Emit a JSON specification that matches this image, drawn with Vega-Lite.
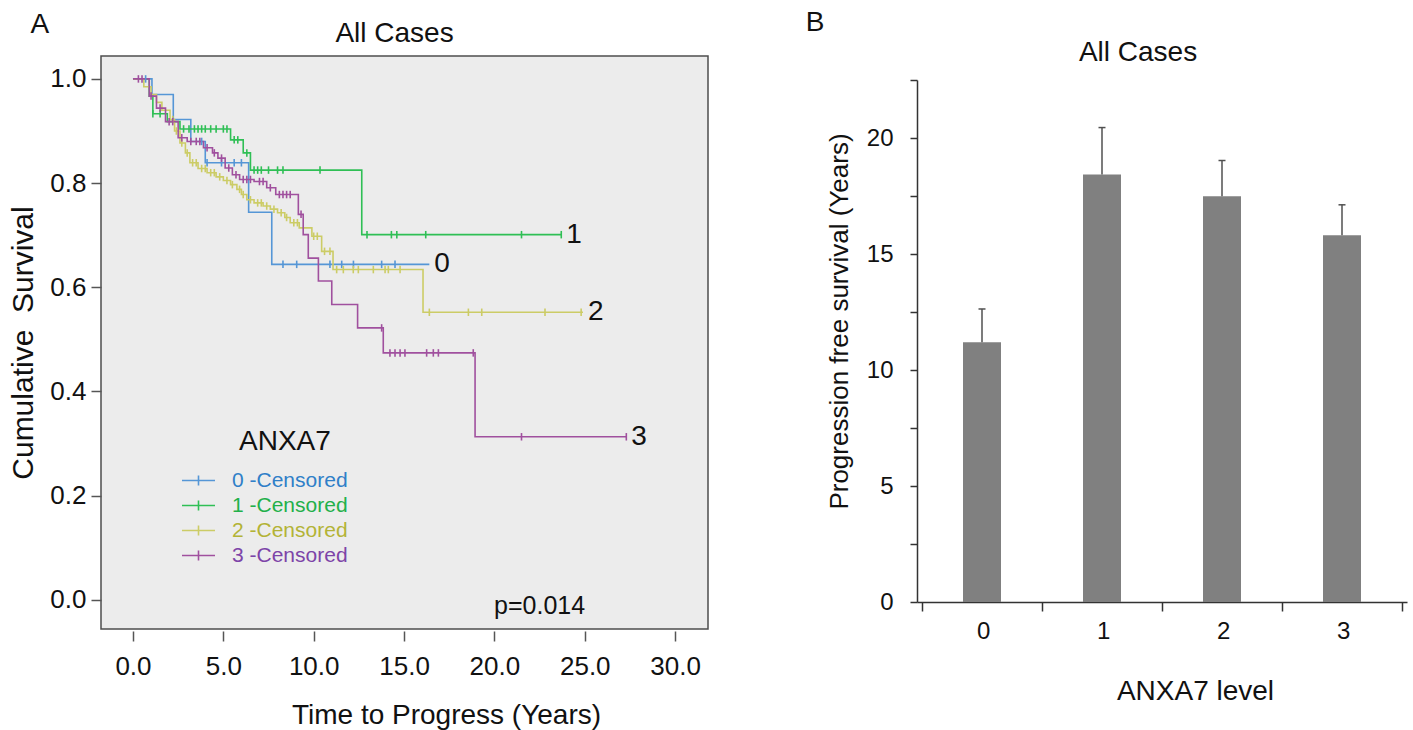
{
  "$schema": "https://vega.github.io/schema/vega-lite/v6.json",
  "background": "white",
  "padding": {"left": 8, "top": 8, "right": 5, "bottom": 5},
  "config": {
    "font": "Liberation Sans",
    "axis": {"labelColor": "#111", "titleColor": "#111", "titleFontWeight": "normal", "grid": false},
    "title": {"color": "#111", "fontWeight": "normal"}
  },
  "datasets": {
    "km": [
      {"g": "0", "t": 0, "s": 1.0}, {"g": "0", "t": 1.05, "s": 0.97}, {"g": "0", "t": 2.23, "s": 0.922}, {"g": "0", "t": 3.2, "s": 0.88}, {"g": "0", "t": 4.0, "s": 0.839}, {"g": "0", "t": 6.4, "s": 0.744}, {"g": "0", "t": 7.68, "s": 0.644}, {"g": "0", "t": 16.4, "s": 0.644},
      {"g": "1", "t": 0, "s": 1.0}, {"g": "1", "t": 0.9, "s": 0.967}, {"g": "1", "t": 1.1, "s": 0.933}, {"g": "1", "t": 1.9, "s": 0.918}, {"g": "1", "t": 2.6, "s": 0.904}, {"g": "1", "t": 5.4, "s": 0.883}, {"g": "1", "t": 6.1, "s": 0.858}, {"g": "1", "t": 6.5, "s": 0.825}, {"g": "1", "t": 12.66, "s": 0.701}, {"g": "1", "t": 23.7, "s": 0.701},
      {"g": "2", "t": 0, "s": 1.0}, {"g": "2", "t": 0.6, "s": 0.985}, {"g": "2", "t": 1.0, "s": 0.97}, {"g": "2", "t": 1.3, "s": 0.955}, {"g": "2", "t": 1.6, "s": 0.94}, {"g": "2", "t": 2.05, "s": 0.922}, {"g": "2", "t": 2.3, "s": 0.9}, {"g": "2", "t": 2.6, "s": 0.877}, {"g": "2", "t": 2.9, "s": 0.858}, {"g": "2", "t": 3.15, "s": 0.839}, {"g": "2", "t": 3.6, "s": 0.828}, {"g": "2", "t": 4.1, "s": 0.82}, {"g": "2", "t": 4.6, "s": 0.812}, {"g": "2", "t": 5.0, "s": 0.805}, {"g": "2", "t": 5.4, "s": 0.797}, {"g": "2", "t": 5.75, "s": 0.788}, {"g": "2", "t": 6.0, "s": 0.778}, {"g": "2", "t": 6.3, "s": 0.768}, {"g": "2", "t": 6.7, "s": 0.762}, {"g": "2", "t": 7.2, "s": 0.756}, {"g": "2", "t": 7.6, "s": 0.75}, {"g": "2", "t": 8.0, "s": 0.743}, {"g": "2", "t": 8.4, "s": 0.734}, {"g": "2", "t": 8.7, "s": 0.724}, {"g": "2", "t": 9.2, "s": 0.714}, {"g": "2", "t": 9.9, "s": 0.698}, {"g": "2", "t": 10.44, "s": 0.669}, {"g": "2", "t": 11.07, "s": 0.634}, {"g": "2", "t": 16.05, "s": 0.552}, {"g": "2", "t": 24.9, "s": 0.552},
      {"g": "3", "t": 0, "s": 1.0}, {"g": "3", "t": 0.9, "s": 0.967}, {"g": "3", "t": 1.3, "s": 0.944}, {"g": "3", "t": 1.8, "s": 0.918}, {"g": "3", "t": 2.5, "s": 0.887}, {"g": "3", "t": 3.0, "s": 0.88}, {"g": "3", "t": 3.9, "s": 0.868}, {"g": "3", "t": 4.4, "s": 0.858}, {"g": "3", "t": 4.7, "s": 0.848}, {"g": "3", "t": 5.1, "s": 0.829}, {"g": "3", "t": 5.5, "s": 0.816}, {"g": "3", "t": 5.9, "s": 0.807}, {"g": "3", "t": 6.7, "s": 0.803}, {"g": "3", "t": 7.4, "s": 0.791}, {"g": "3", "t": 7.9, "s": 0.778}, {"g": "3", "t": 9.15, "s": 0.74}, {"g": "3", "t": 9.42, "s": 0.701}, {"g": "3", "t": 9.7, "s": 0.656}, {"g": "3", "t": 10.26, "s": 0.612}, {"g": "3", "t": 11.0, "s": 0.567}, {"g": "3", "t": 12.43, "s": 0.522}, {"g": "3", "t": 13.85, "s": 0.474}, {"g": "3", "t": 18.93, "s": 0.313}, {"g": "3", "t": 27.3, "s": 0.313}
    ],
    "cens": [
      {"g": "0", "t": 0.7, "s": 1.0}, {"g": "0", "t": 3.8, "s": 0.88}, {"g": "0", "t": 4.1, "s": 0.839}, {"g": "0", "t": 4.9, "s": 0.839}, {"g": "0", "t": 5.6, "s": 0.839}, {"g": "0", "t": 6.0, "s": 0.839}, {"g": "0", "t": 8.3, "s": 0.644}, {"g": "0", "t": 9.06, "s": 0.644}, {"g": "0", "t": 10.9, "s": 0.644}, {"g": "0", "t": 11.55, "s": 0.644}, {"g": "0", "t": 12.2, "s": 0.644}, {"g": "0", "t": 13.76, "s": 0.644}, {"g": "0", "t": 14.5, "s": 0.644},
      {"g": "1", "t": 1.1, "s": 0.933}, {"g": "1", "t": 1.5, "s": 0.933}, {"g": "1", "t": 2.8, "s": 0.904}, {"g": "1", "t": 3.1, "s": 0.904}, {"g": "1", "t": 3.4, "s": 0.904}, {"g": "1", "t": 3.6, "s": 0.904}, {"g": "1", "t": 3.8, "s": 0.904}, {"g": "1", "t": 4.0, "s": 0.904}, {"g": "1", "t": 4.3, "s": 0.904}, {"g": "1", "t": 4.6, "s": 0.904}, {"g": "1", "t": 5.0, "s": 0.904}, {"g": "1", "t": 5.2, "s": 0.904}, {"g": "1", "t": 5.6, "s": 0.883}, {"g": "1", "t": 5.8, "s": 0.883}, {"g": "1", "t": 6.3, "s": 0.858}, {"g": "1", "t": 6.7, "s": 0.825}, {"g": "1", "t": 6.9, "s": 0.825}, {"g": "1", "t": 7.1, "s": 0.825}, {"g": "1", "t": 7.5, "s": 0.825}, {"g": "1", "t": 8.0, "s": 0.825}, {"g": "1", "t": 8.3, "s": 0.825}, {"g": "1", "t": 10.35, "s": 0.825}, {"g": "1", "t": 12.95, "s": 0.701}, {"g": "1", "t": 14.3, "s": 0.701}, {"g": "1", "t": 14.6, "s": 0.701}, {"g": "1", "t": 16.2, "s": 0.701}, {"g": "1", "t": 21.5, "s": 0.701}, {"g": "1", "t": 23.7, "s": 0.701},
      {"g": "2", "t": 2.2, "s": 0.922}, {"g": "2", "t": 2.4, "s": 0.9}, {"g": "2", "t": 2.7, "s": 0.877}, {"g": "2", "t": 3.0, "s": 0.858}, {"g": "2", "t": 3.3, "s": 0.839}, {"g": "2", "t": 3.5, "s": 0.839}, {"g": "2", "t": 3.8, "s": 0.828}, {"g": "2", "t": 4.0, "s": 0.828}, {"g": "2", "t": 4.3, "s": 0.82}, {"g": "2", "t": 4.5, "s": 0.82}, {"g": "2", "t": 4.8, "s": 0.812}, {"g": "2", "t": 5.2, "s": 0.805}, {"g": "2", "t": 5.5, "s": 0.797}, {"g": "2", "t": 5.9, "s": 0.788}, {"g": "2", "t": 6.1, "s": 0.778}, {"g": "2", "t": 6.5, "s": 0.768}, {"g": "2", "t": 6.9, "s": 0.762}, {"g": "2", "t": 7.1, "s": 0.762}, {"g": "2", "t": 7.4, "s": 0.756}, {"g": "2", "t": 7.8, "s": 0.75}, {"g": "2", "t": 8.2, "s": 0.743}, {"g": "2", "t": 8.5, "s": 0.734}, {"g": "2", "t": 8.9, "s": 0.724}, {"g": "2", "t": 9.1, "s": 0.724}, {"g": "2", "t": 10.0, "s": 0.698}, {"g": "2", "t": 10.2, "s": 0.698}, {"g": "2", "t": 10.6, "s": 0.669}, {"g": "2", "t": 10.9, "s": 0.669}, {"g": "2", "t": 11.27, "s": 0.634}, {"g": "2", "t": 11.64, "s": 0.634}, {"g": "2", "t": 12.19, "s": 0.634}, {"g": "2", "t": 12.47, "s": 0.634}, {"g": "2", "t": 13.3, "s": 0.634}, {"g": "2", "t": 13.95, "s": 0.634}, {"g": "2", "t": 14.13, "s": 0.634}, {"g": "2", "t": 14.78, "s": 0.634}, {"g": "2", "t": 16.4, "s": 0.552}, {"g": "2", "t": 18.56, "s": 0.552}, {"g": "2", "t": 19.3, "s": 0.552}, {"g": "2", "t": 22.8, "s": 0.552}, {"g": "2", "t": 24.8, "s": 0.552},
      {"g": "3", "t": 0.3, "s": 1.0}, {"g": "3", "t": 0.5, "s": 1.0}, {"g": "3", "t": 1.0, "s": 0.967}, {"g": "3", "t": 1.5, "s": 0.944}, {"g": "3", "t": 2.0, "s": 0.918}, {"g": "3", "t": 2.2, "s": 0.918}, {"g": "3", "t": 2.7, "s": 0.887}, {"g": "3", "t": 3.2, "s": 0.88}, {"g": "3", "t": 3.5, "s": 0.88}, {"g": "3", "t": 3.7, "s": 0.88}, {"g": "3", "t": 4.1, "s": 0.868}, {"g": "3", "t": 4.5, "s": 0.858}, {"g": "3", "t": 4.9, "s": 0.848}, {"g": "3", "t": 5.3, "s": 0.829}, {"g": "3", "t": 5.7, "s": 0.816}, {"g": "3", "t": 6.1, "s": 0.807}, {"g": "3", "t": 6.3, "s": 0.807}, {"g": "3", "t": 6.5, "s": 0.807}, {"g": "3", "t": 7.0, "s": 0.803}, {"g": "3", "t": 7.2, "s": 0.803}, {"g": "3", "t": 7.6, "s": 0.791}, {"g": "3", "t": 8.1, "s": 0.778}, {"g": "3", "t": 8.3, "s": 0.778}, {"g": "3", "t": 8.5, "s": 0.778}, {"g": "3", "t": 8.7, "s": 0.778}, {"g": "3", "t": 9.3, "s": 0.74}, {"g": "3", "t": 13.76, "s": 0.522}, {"g": "3", "t": 14.22, "s": 0.474}, {"g": "3", "t": 14.5, "s": 0.474}, {"g": "3", "t": 14.78, "s": 0.474}, {"g": "3", "t": 15.05, "s": 0.474}, {"g": "3", "t": 16.25, "s": 0.474}, {"g": "3", "t": 16.62, "s": 0.474}, {"g": "3", "t": 16.9, "s": 0.474}, {"g": "3", "t": 18.83, "s": 0.474}, {"g": "3", "t": 21.5, "s": 0.313}, {"g": "3", "t": 27.3, "s": 0.313}
    ],
    "ends": [
      {"g": "0", "t": 16.4, "s": 0.644}, {"g": "1", "t": 23.7, "s": 0.701}, {"g": "2", "t": 24.9, "s": 0.552}, {"g": "3", "t": 27.3, "s": 0.313}
    ],
    "bars": [
      {"level": 0, "pfs": 11.2, "upper": 12.63},
      {"level": 1, "pfs": 18.43, "upper": 20.45},
      {"level": 2, "pfs": 17.49, "upper": 19.03},
      {"level": 3, "pfs": 15.81, "upper": 17.12}
    ]
  },
  "bounds": "flush",
  "spacing": 209,
  "hconcat": [
    {
      "width": 607,
      "height": 573,
      "view": {"fill": "#ececec", "stroke": "#4d4d4d", "strokeWidth": 1.5},
      "title": {"text": "All Cases", "fontSize": 28, "offset": -37, "dx": -10},
      "layer": [
        {
          "data": {"name": "km"},
          "mark": {"type": "line", "interpolate": "step-after", "strokeWidth": 1.6},
          "encoding": {
            "x": {"field": "t", "type": "quantitative",
              "scale": {"domain": [-1.77, 31.82], "nice": false, "zero": false},
              "axis": {"title": "Time to Progress (Years)", "values": [0, 5, 10, 15, 20, 25, 30], "format": ".1f",
                "domain": false, "tickSize": 10, "tickWidth": 1.5, "tickColor": "#555", "offset": 2,
                "labelFontSize": 26, "labelPadding": 12, "labelFlush": false, "labelOverlap": false,
                "titleFontSize": 28, "titlePadding": 22, "titleX": 345, "titleAlign": "center"}},
            "y": {"field": "s", "type": "quantitative",
              "scale": {"domain": [-0.056, 1.044], "nice": false, "zero": false},
              "axis": {"title": "Cumulative\u00a0 Survival", "values": [0, 0.2, 0.4, 0.6, 0.8, 1.0], "format": ".1f",
                "domain": false, "tickSize": 10, "tickWidth": 1.5, "tickColor": "#555",
                "labelFontSize": 26, "labelPadding": 5, "labelOverlap": false,
                "titleFontSize": 30, "titlePadding": 11}},
            "color": {"field": "g", "type": "nominal",
              "scale": {"domain": ["0", "1", "2", "3"], "range": ["#5596d6", "#2fbf55", "#cccc66", "#a0509e"]},
              "legend": {"orient": "none", "legendX": 87, "legendY": 372, "title": "ANXA7", "padding": 0,
                "titleFontSize": 28, "titleFontWeight": "normal", "titleColor": "#111", "titlePadding": 14,
                "labelFontSize": 21, "labelOffset": 23, "labelExpr": "datum.label + ' -Censored'",
                "symbolType": "M-2,0H2M0,-0.6V0.6", "symbolSize": 272, "symbolStrokeWidth": 1.6, "rowPadding": 3,
                "encode": {
                  "title": {"update": {"dx": {"value": 51}}},
                  "labels": {"update": {"fill": {"signal": "datum.value === '0' ? '#2f7fc8' : datum.value === '1' ? '#22b04a' : datum.value === '2' ? '#b3b336' : '#7d44a8'"}}}
                }}}
          }
        },
        {
          "data": {"name": "cens"},
          "mark": {"type": "point", "shape": "M0,-1V1", "size": 56, "strokeWidth": 1.6, "filled": false, "opacity": 1},
          "encoding": {
            "x": {"field": "t", "type": "quantitative"},
            "y": {"field": "s", "type": "quantitative"},
            "color": {"field": "g", "type": "nominal"}
          }
        },
        {
          "data": {"name": "ends"},
          "mark": {"type": "text", "align": "left", "baseline": "middle", "dx": 5, "fontSize": 28, "color": "#111"},
          "encoding": {
            "x": {"field": "t", "type": "quantitative"},
            "y": {"field": "s", "type": "quantitative"},
            "text": {"field": "g"}
          }
        },
        {
          "data": {"values": [{"label": "p=0.014"}]},
          "mark": {"type": "text", "align": "center", "baseline": "middle", "fontSize": 25, "color": "#111"},
          "encoding": {
            "x": {"datum": 22.5, "type": "quantitative"},
            "y": {"datum": -0.012, "type": "quantitative"},
            "text": {"field": "label"}
          }
        },
        {
          "data": {"values": [{"label": "A"}]},
          "mark": {"type": "text", "align": "center", "baseline": "middle", "fontSize": 28, "color": "#111"},
          "encoding": {
            "x": {"datum": -5.15, "type": "quantitative"},
            "y": {"datum": 1.104, "type": "quantitative"},
            "text": {"field": "label"}
          }
        }
      ]
    },
    {
      "width": 490,
      "height": 573,
      "view": {"stroke": null},
      "title": {"text": "All Cases", "fontSize": 28, "offset": -58, "dx": -24},
      "layer": [
        {
          "data": {"name": "bars"},
          "mark": {"type": "bar", "width": 38, "color": "#808080", "orient": "vertical"},
          "encoding": {
            "x": {"field": "level", "type": "quantitative",
              "scale": {"domain": [-0.5, 3.5], "nice": false, "zero": false},
              "axis": {"title": "ANXA7 level", "values": [-0.5, 0.5, 1.5, 2.5, 3.5],
                "labelExpr": "datum.value < 3 ? format(datum.value + 0.5, 'd') : ''",
                "labelOffset": 61.25, "offset": -27, "domainColor": "#333", "domainWidth": 1.5,
                "tickSize": 9, "tickColor": "#333", "tickWidth": 1.5, "labelFontSize": 24, "labelPadding": 8,
                "labelFlush": false, "labelOverlap": false,
                "titleFontSize": 28, "titlePadding": 34, "titleX": 278, "titleAlign": "center"}},
            "y": {"field": "pfs", "type": "quantitative",
              "scale": {"domain": [0, 22.5], "nice": false, "zero": false, "range": [546, 24]},
              "axis": {"title": "Progression free survival (Years)", "values": [0, 2.5, 5, 7.5, 10, 12.5, 15, 17.5, 20, 22.5],
                "labelExpr": "datum.value % 5 === 0 ? format(datum.value, 'd') : ''",
                "domainColor": "#333", "domainWidth": 1.5, "tickSize": 7, "tickColor": "#333", "tickWidth": 1.5,
                "labelFontSize": 24, "labelPadding": 17, "labelOverlap": false,
                "titleFontSize": 26, "titlePadding": 14, "titleY": 265, "titleAlign": "center"}}
          }
        },
        {
          "data": {"name": "bars"},
          "mark": {"type": "rule", "color": "#505050", "strokeWidth": 1.5},
          "encoding": {
            "x": {"field": "level", "type": "quantitative"},
            "y": {"field": "pfs", "type": "quantitative"},
            "y2": {"field": "upper"}
          }
        },
        {
          "data": {"name": "bars"},
          "mark": {"type": "point", "shape": "M-1,0H1", "size": 49, "filled": false, "strokeWidth": 1.5, "color": "#505050", "opacity": 1},
          "encoding": {
            "x": {"field": "level", "type": "quantitative"},
            "y": {"field": "upper", "type": "quantitative"}
          }
        },
        {
          "data": {"values": [{"label": "B"}]},
          "mark": {"type": "text", "align": "center", "baseline": "middle", "fontSize": 28, "color": "#111"},
          "encoding": {
            "x": {"datum": -1.39, "type": "quantitative"},
            "y": {"datum": 24.96, "type": "quantitative"},
            "text": {"field": "label"}
          }
        }
      ]
    }
  ]
}
